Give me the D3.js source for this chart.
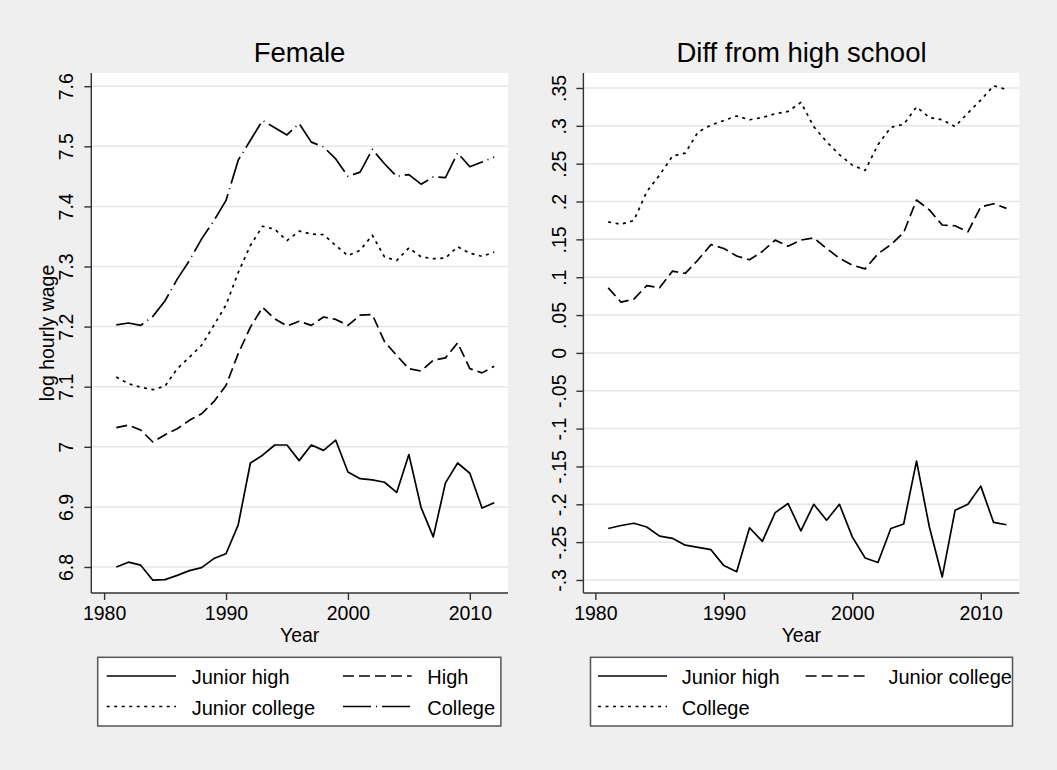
<!DOCTYPE html>
<html>
<head>
<meta charset="utf-8">
<script src="https://cdn.jsdelivr.net/npm/d3@7"></script>
<style>
  html, body { margin: 0; padding: 0; background: #efefef; }
  svg { display: block; }
  text { font-family: "Liberation Sans", Arial, Helvetica, sans-serif; fill: #000; }
</style>
</head>
<body>
<script>
// ---------------- DATA ----------------
const years = d3.range(1981, 2013);

const juniorHigh = [6.800, 6.808, 6.803, 6.778, 6.779, 6.786, 6.794, 6.799, 6.814, 6.822,
  6.870, 6.973, 6.986, 7.003, 7.003, 6.977, 7.003, 6.994, 7.011, 6.958,
  6.947, 6.945, 6.941, 6.924, 6.987, 6.899, 6.850, 6.940, 6.973, 6.956,
  6.898, 6.907];
const high = [7.032, 7.036, 7.028, 7.008, 7.020, 7.030, 7.044, 7.055, 7.075, 7.102,
  7.155, 7.199, 7.232, 7.213, 7.201, 7.209, 7.202, 7.216, 7.212, 7.202,
  7.219, 7.220, 7.175, 7.152, 7.130, 7.126, 7.144, 7.148, 7.173, 7.130,
  7.123, 7.134];
const juniorCollege = [7.116, 7.105, 7.099, 7.095, 7.101, 7.130, 7.149, 7.169, 7.202, 7.236,
  7.290, 7.335, 7.367, 7.362, 7.343, 7.359, 7.354, 7.353, 7.335, 7.318,
  7.327, 7.352, 7.316, 7.310, 7.331, 7.316, 7.313, 7.314, 7.333, 7.322,
  7.317, 7.324];
const college = [7.203, 7.206, 7.202, 7.217, 7.243, 7.279, 7.310, 7.346, 7.376, 7.410,
  7.477, 7.510, 7.543, 7.531, 7.519, 7.538, 7.507, 7.499, 7.479, 7.450,
  7.457, 7.495, 7.471, 7.450, 7.453, 7.437, 7.449, 7.448, 7.489, 7.466,
  7.474, 7.482];

const diffJuniorHigh = [-0.232, -0.228, -0.225, -0.230, -0.242, -0.245, -0.254, -0.257, -0.260, -0.281,
  -0.289, -0.231, -0.249, -0.211, -0.199, -0.235, -0.200, -0.221, -0.200, -0.243,
  -0.271, -0.277, -0.232, -0.226, -0.143, -0.230, -0.296, -0.208, -0.200, -0.176,
  -0.224, -0.227];
const diffJuniorCollege = [0.086, 0.067, 0.071, 0.089, 0.086, 0.108, 0.105, 0.123, 0.143, 0.138,
  0.128, 0.123, 0.134, 0.149, 0.141, 0.149, 0.152, 0.138, 0.125, 0.116,
  0.111, 0.131, 0.143, 0.159, 0.202, 0.189, 0.169, 0.168, 0.160, 0.193,
  0.197, 0.191];
const diffCollege = [0.173, 0.170, 0.175, 0.213, 0.235, 0.260, 0.264, 0.292, 0.301, 0.307,
  0.313, 0.308, 0.311, 0.316, 0.319, 0.331, 0.299, 0.279, 0.262, 0.248,
  0.241, 0.275, 0.298, 0.302, 0.325, 0.311, 0.308, 0.299, 0.317, 0.334,
  0.353, 0.348];

const xTicks = [1980, 1990, 2000, 2010];
const leftYTicks = [6.8, 6.9, 7.0, 7.1, 7.2, 7.3, 7.4, 7.5, 7.6];
const leftYTickLabels = ["6.8", "6.9", "7", "7.1", "7.2", "7.3", "7.4", "7.5", "7.6"];
const rightYTicks = [-0.3, -0.25, -0.2, -0.15, -0.1, -0.05, 0, 0.05, 0.1, 0.15, 0.2, 0.25, 0.3, 0.35];
const rightYTickLabels = ["-.3", "-.25", "-.2", "-.15", "-.1", "-.05", "0", ".05", ".1", ".15", ".2", ".25", ".3", ".35"];

const leftTitle = "Female";
const rightTitle = "Diff from high school";
const leftSeriesNames = ["Junior high", "High", "Junior college", "College"];
const rightSeriesNames = ["Junior high", "Junior college", "College"];

// ---------------- STYLES ----------------
const DASH = {
  solid: null,
  dash: "11,5",
  dot: "3,4.5",
  dashdot: "28,5,1,5"
};

const W = 1057, H = 770;
const svg = d3.select("body").append("svg").attr("width", W).attr("height", H);
svg.append("rect").attr("width", W).attr("height", H).attr("fill", "#efefef");

function panel(cfg) {
  const g = svg.append("g");
  const x = d3.scaleLinear().domain(cfg.xDomain).range([cfg.left, cfg.right]);
  const y = d3.scaleLinear().domain(cfg.yDomain).range([cfg.bottom, cfg.top]);

  // plot region
  g.append("rect").attr("x", cfg.left).attr("y", cfg.top)
    .attr("width", cfg.right - cfg.left).attr("height", cfg.bottom - cfg.top)
    .attr("fill", "#ffffff");

  // gridlines
  g.selectAll(".grid").data(cfg.yTicks).enter().append("line")
    .attr("x1", cfg.left).attr("x2", cfg.right)
    .attr("y1", d => y(d)).attr("y2", d => y(d))
    .attr("stroke", "#e6e6e6").attr("stroke-width", 1.5);

  // series
  const line = d3.line().x((d, i) => x(years[i])).y(d => y(d));
  cfg.series.forEach(s => {
    g.append("path").datum(s.values)
      .attr("d", line)
      .attr("fill", "none")
      .attr("stroke", "#000")
      .attr("stroke-width", 1.7)
      .attr("stroke-linejoin", "round")
      .attr("stroke-dasharray", DASH[s.style]);
  });

  // y axis
  const yAxis = d3.axisLeft(y).tickValues(cfg.yTicks).tickSize(7)
    .tickFormat((d, i) => cfg.yTickLabels[i]);
  const ya = g.append("g").attr("transform", `translate(${cfg.left},0)`).call(yAxis);
  ya.select(".domain").attr("d", `M0,${cfg.top}V${cfg.bottom}`).attr("stroke", "#333").attr("stroke-width", 1.4);
  ya.selectAll(".tick line").attr("stroke", "#333").attr("stroke-width", 1.4);
  ya.selectAll(".tick text")
    .attr("x", null).attr("dy", null)
    .attr("transform", `translate(${cfg.yLabelBaseline - cfg.left},0) rotate(-90)`)
    .attr("text-anchor", "middle")
    .style("font-size", "19.5px")
    .style("font-family", '"Liberation Sans", Arial, sans-serif')
    .attr("fill", "#000");

  // x axis
  const xAxis = d3.axisBottom(x).tickValues(xTicks).tickSize(7).tickFormat(d3.format("d"));
  const xa = g.append("g").attr("transform", `translate(0,${cfg.bottom})`).call(xAxis);
  xa.select(".domain").attr("d", `M${cfg.left},0H${cfg.right}`).attr("stroke", "#333").attr("stroke-width", 1.4);
  xa.selectAll(".tick line").attr("stroke", "#333").attr("stroke-width", 1.4);
  xa.selectAll(".tick text")
    .attr("y", 27).attr("dy", null)
    .style("font-size", "19.5px")
    .style("font-family", '"Liberation Sans", Arial, sans-serif')
    .attr("fill", "#000");

  // x title
  g.append("text").attr("x", (cfg.left + cfg.right) / 2).attr("y", 641.5)
    .attr("text-anchor", "middle").style("font-size", "19.5px").text("Year");

  // y title
  if (cfg.yTitle) {
    g.append("text")
      .attr("transform", `translate(${cfg.yTitleBaseline},${cfg.yTitleCenter}) rotate(-90)`)
      .attr("text-anchor", "middle").style("font-size", "19.5px").text(cfg.yTitle);
  }

  // panel title
  g.append("text").attr("x", cfg.titleX).attr("y", 62.3)
    .attr("text-anchor", "middle").style("font-size", "27.5px").text(cfg.title);

  // legend
  const L = cfg.legend;
  g.append("rect").attr("x", L.x0).attr("y", 657.3)
    .attr("width", L.x1 - L.x0).attr("height", 726 - 657.3)
    .attr("fill", "#ffffff").attr("stroke", "#555").attr("stroke-width", 1.5);
  const rowsY = [676, 706.5];
  cfg.series.forEach((s, i) => {
    const col = i % 2, row = Math.floor(i / 2);
    const c = L.cols[col];
    const yy = rowsY[row];
    g.append("line").attr("x1", c.l0).attr("x2", c.l1).attr("y1", yy).attr("y2", yy)
      .attr("stroke", "#000").attr("stroke-width", 1.7)
      .attr("stroke-dasharray", DASH[s.style]);
    g.append("text").attr("x", c.t).attr("y", yy + 8)
      .style("font-size", "20px").text(s.name);
  });
}

panel({
  left: 91.3, right: 508, top: 73, bottom: 593,
  xDomain: [1978.95, 2013.13], yDomain: [6.7567, 7.622],
  yTicks: leftYTicks, yTickLabels: leftYTickLabels,
  yLabelBaseline: 72.5,
  yTitle: "log hourly wage", yTitleBaseline: 53.5, yTitleCenter: 333,
  title: leftTitle, titleX: 299.5,
  series: [
    { name: leftSeriesNames[0], values: juniorHigh, style: "solid" },
    { name: leftSeriesNames[1], values: high, style: "dash" },
    { name: leftSeriesNames[2], values: juniorCollege, style: "dot" },
    { name: leftSeriesNames[3], values: college, style: "dashdot" }
  ],
  legend: { x0: 97.7, x1: 500.9,
    cols: [{ l0: 106.7, l1: 176, t: 191.7 }, { l0: 343, l1: 411.7, t: 427.3 }] }
});

panel({
  left: 583.4, right: 1019.3, top: 73, bottom: 593,
  xDomain: [1979.07, 2013.0], yDomain: [-0.3172, 0.3698],
  yTicks: rightYTicks, yTickLabels: rightYTickLabels,
  yLabelBaseline: 566,
  yTitle: null,
  title: rightTitle, titleX: 801.5,
  series: [
    { name: rightSeriesNames[0], values: diffJuniorHigh, style: "solid" },
    { name: rightSeriesNames[1], values: diffJuniorCollege, style: "dash" },
    { name: rightSeriesNames[2], values: diffCollege, style: "dot" }
  ],
  legend: { x0: 590.5, x1: 1012.5,
    cols: [{ l0: 598, l1: 667, t: 681.7 }, { l0: 805.6, l1: 866.3, t: 888.5 }] }
});
</script>
</body>
</html>
